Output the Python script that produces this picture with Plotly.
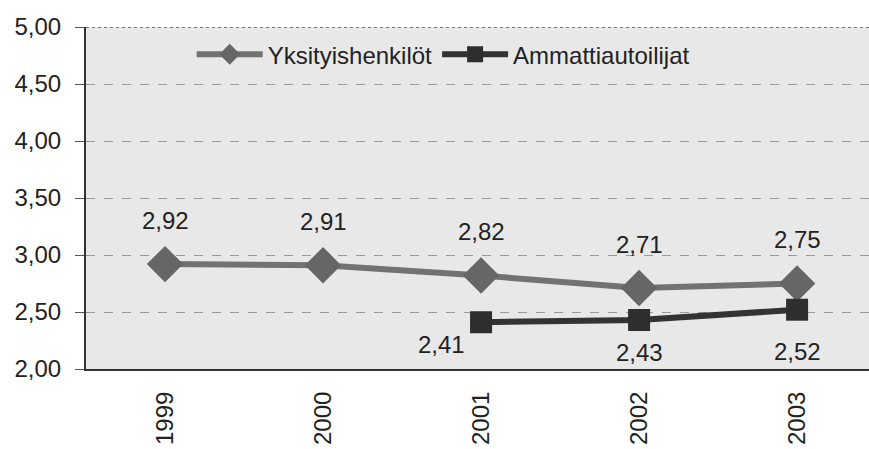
import plotly.graph_objects as go

# data
years = ["1999", "2000", "2001", "2002", "2003"]
yksityis = [2.92, 2.91, 2.82, 2.71, 2.75]
ammatti = [None, None, 2.41, 2.43, 2.52]
y_ticks = [2.0, 2.5, 3.0, 3.5, 4.0, 4.5, 5.0]

FONT = "Liberation Sans, Arial"


def fmt(v):
    return f"{v:.2f}".replace(".", ",")


fig = go.Figure()
fig.add_trace(go.Scatter(
    x=years, y=yksityis, mode="lines+markers", name="Yksityishenkilöt",
    line=dict(color="#727272", width=6),
    marker=dict(symbol="diamond", size=28, color="#666666"),
))
fig.add_trace(go.Scatter(
    x=years, y=ammatti, mode="lines+markers", name="Ammattiautoilijat",
    line=dict(color="#333333", width=6),
    marker=dict(symbol="square", size=22, color="#2e2e2e"),
))

# value labels (category index used as x position)
for i, v in enumerate(yksityis):
    fig.add_annotation(x=i, y=v, text=fmt(v), showarrow=False, yshift=44,
                       font=dict(family=FONT, size=24, color="#222"))
offsets = {"2001": (-40, -22), "2002": (0, -33), "2003": (0, -42)}
for i, v in enumerate(ammatti):
    if v is None:
        continue
    dx, dy = offsets[years[i]]
    fig.add_annotation(x=i, y=v, text=fmt(v), showarrow=False, xshift=dx, yshift=dy,
                       font=dict(family=FONT, size=24, color="#222"))

fig.update_layout(
    width=869, height=449,
    margin=dict(l=86, r=0, t=27, b=80),
    paper_bgcolor="white", plot_bgcolor="#e8e8e8",
    separators=", ",
    font=dict(family=FONT, size=24, color="#222"),
    showlegend=True,
    legend=dict(orientation="h", x=0.135, y=0.985, xanchor="left", yanchor="top",
                bgcolor="rgba(0,0,0,0)", font=dict(size=24), itemwidth=66,
                tracegroupgap=0),
)
fig.update_xaxes(
    type="category", range=[-0.5, 4.455], tickangle=-90,
    showgrid=False, showline=True, linecolor="#333", linewidth=2,
    ticks="", tickfont=dict(size=24), ticklabelstandoff=11, automargin=False,
)
fig.update_yaxes(
    range=[2, 5], tickvals=y_ticks, tickformat=".2f",
    showgrid=True, gridcolor="#9a9a9a", griddash="dash", gridwidth=1,
    showline=True, linecolor="#333", linewidth=2,
    ticks="outside", ticklen=9, tickcolor="#555", tickfont=dict(size=24),
    ticklabelstandoff=9, zeroline=False, automargin=False,
)
fig.add_shape(type="line", xref="paper", yref="y", x0=0, x1=1, y0=5, y1=5,
              line=dict(color="#777", width=2, dash="dot"))

# drop the page's default body margin and scrollbars so the figure fills the window
fig.write_html("out.html",
               config={"displayModeBar": False},
               post_script="document.body.style.margin='0';"
                           "document.body.style.overflow='hidden';")
